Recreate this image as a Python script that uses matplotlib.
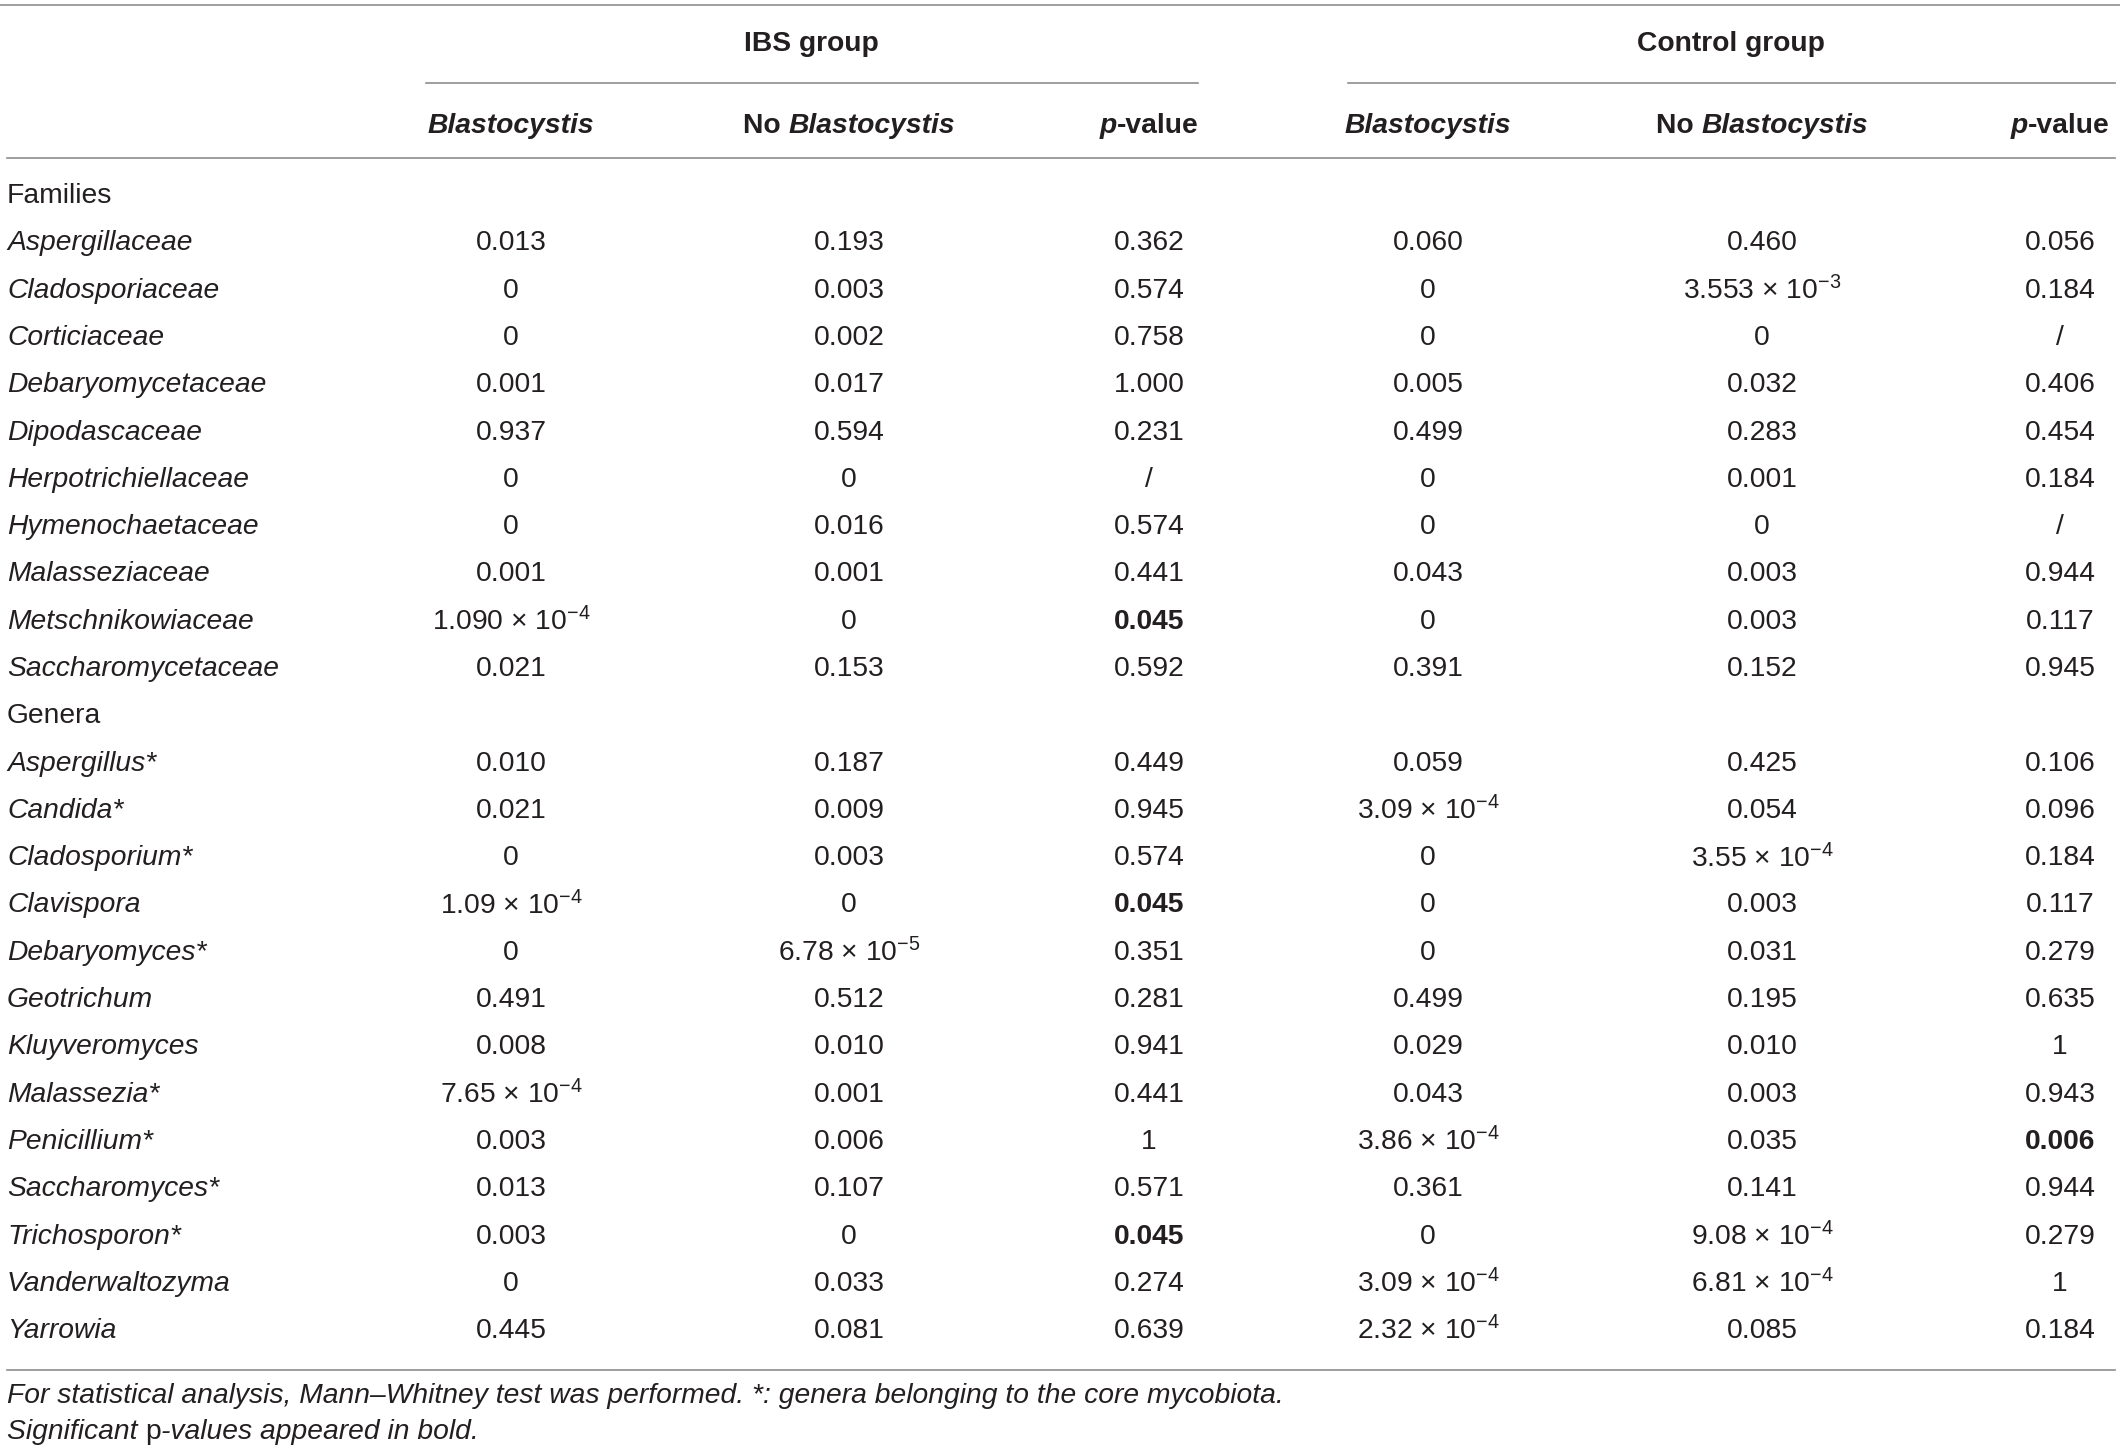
import matplotlib
matplotlib.use("Agg")
import matplotlib.pyplot as plt

plt.rcParams['font.family'] = ['Liberation Sans', 'DejaVu Sans']
plt.rcParams['mathtext.fontset'] = 'custom'
plt.rcParams['mathtext.rm'] = 'Liberation Sans'
plt.rcParams['mathtext.it'] = 'Liberation Sans:italic'
plt.rcParams['mathtext.bf'] = 'Liberation Sans:bold'

# ---- data ----
groups = ["IBS group", "Control group"]
sub_headers = ["Blastocystis", "No Blastocystis", "p-value"]

family_names = ["Aspergillaceae", "Cladosporiaceae", "Corticiaceae", "Debaryomycetaceae",
                "Dipodascaceae", "Herpotrichiellaceae", "Hymenochaetaceae", "Malasseziaceae",
                "Metschnikowiaceae", "Saccharomycetaceae"]
family_values = [
    ["0.013", "0.193", "0.362", "0.060", "0.460", "0.056"],
    ["0", "0.003", "0.574", "0", "3.553e-3", "0.184"],
    ["0", "0.002", "0.758", "0", "0", "/"],
    ["0.001", "0.017", "1.000", "0.005", "0.032", "0.406"],
    ["0.937", "0.594", "0.231", "0.499", "0.283", "0.454"],
    ["0", "0", "/", "0", "0.001", "0.184"],
    ["0", "0.016", "0.574", "0", "0", "/"],
    ["0.001", "0.001", "0.441", "0.043", "0.003", "0.944"],
    ["1.090e-4", "0", "0.045", "0", "0.003", "0.117"],
    ["0.021", "0.153", "0.592", "0.391", "0.152", "0.945"],
]

genus_names = ["Aspergillus*", "Candida*", "Cladosporium*", "Clavispora", "Debaryomyces*",
               "Geotrichum", "Kluyveromyces", "Malassezia*", "Penicillium*", "Saccharomyces*",
               "Trichosporon*", "Vanderwaltozyma", "Yarrowia"]
genus_values = [
    ["0.010", "0.187", "0.449", "0.059", "0.425", "0.106"],
    ["0.021", "0.009", "0.945", "3.09e-4", "0.054", "0.096"],
    ["0", "0.003", "0.574", "0", "3.55e-4", "0.184"],
    ["1.09e-4", "0", "0.045", "0", "0.003", "0.117"],
    ["0", "6.78e-5", "0.351", "0", "0.031", "0.279"],
    ["0.491", "0.512", "0.281", "0.499", "0.195", "0.635"],
    ["0.008", "0.010", "0.941", "0.029", "0.010", "1"],
    ["7.65e-4", "0.001", "0.441", "0.043", "0.003", "0.943"],
    ["0.003", "0.006", "1", "3.86e-4", "0.035", "0.006"],
    ["0.013", "0.107", "0.571", "0.361", "0.141", "0.944"],
    ["0.003", "0", "0.045", "0", "9.08e-4", "0.279"],
    ["0", "0.033", "0.274", "3.09e-4", "6.81e-4", "1"],
    ["0.445", "0.081", "0.639", "2.32e-4", "0.085", "0.184"],
]

# significant p-values (row name, column index)
bold_cells = [("Metschnikowiaceae", 2), ("Clavispora", 2), ("Trichosporon*", 2), ("Penicillium*", 5)]

footnote1 = "For statistical analysis, Mann\u2013Whitney test was performed. *: genera belonging to the core mycobiota."

# ---- layout ----
W, H = 2120, 1451
col_x = [511, 849, 1149, 1428, 1762, 2060]
label_x = 7
row_y0 = 193
row_step = 47.3
fs = 20.3
txt_color = "#231f20"
line_color = "#8e8e8e"

fig = plt.figure(figsize=(W / 100, H / 100), dpi=100)
ax = fig.add_axes([0, 0, 1, 1])
ax.set_xlim(0, W)
ax.set_ylim(H, 0)
ax.axis("off")
renderer = fig.canvas.get_renderer()


def fmt(v):
    if "e" in v:
        m, e = v.split("e")
        return m + r" $\times$ 10$^{" + str(int(e)) + "}$"
    return v


def pieces(x, y, parts, ha="center"):
    # parts: list of (text, weight, style); drawn side by side
    objs = []
    for s, w, st in parts:
        objs.append(ax.text(0, y, s, fontsize=fs, fontweight=w, fontstyle=st,
                            color=txt_color, va="center_baseline", ha="left"))
    widths = [o.get_window_extent(renderer).width for o in objs]
    total = sum(widths)
    start = x - total / 2 if ha == "center" else x
    for o, wd in zip(objs, widths):
        o.set_x(start)
        start += wd


# rules
ax.plot([0, W], [5, 5], color=line_color, lw=1.2)
ax.plot([7, 2115], [158, 158], color=line_color, lw=1.2)
ax.plot([7, 2115], [1370, 1370], color=line_color, lw=1.2)
ax.plot([426, 1198], [82.5, 82.5], color=line_color, lw=1.2)
ax.plot([1348, 2115], [82.5, 82.5], color=line_color, lw=1.2)

# group headers
for g, cx in zip(groups, [811, 1731]):
    pieces(cx, 41, [(g, "bold", "normal")])

# sub headers
for k in range(2):
    pieces(col_x[3 * k], 123, [("Blastocystis", "bold", "italic")])
    pieces(col_x[3 * k + 1], 123, [("No ", "bold", "normal"), ("Blastocystis", "bold", "italic")])
    pieces(col_x[3 * k + 2], 123, [("p", "bold", "italic"), ("-value", "bold", "normal")])

# body
rows = [("Families", None)] + list(zip(family_names, family_values)) + \
       [("Genera", None)] + list(zip(genus_names, genus_values))
for i, (name, vals) in enumerate(rows):
    y = row_y0 + i * row_step
    if vals is None:
        ax.text(label_x, y, name, fontsize=fs, color=txt_color, va="center_baseline")
        continue
    ax.text(label_x, y, name, fontsize=fs, fontstyle="italic", color=txt_color, va="center_baseline")
    for j, v in enumerate(vals):
        w = "bold" if (name, j) in bold_cells else "normal"
        ax.text(col_x[j], y, fmt(v), fontsize=fs, fontweight=w, color=txt_color,
                ha="center", va="center_baseline")

# footnote
ax.text(label_x, 1393, footnote1, fontsize=fs, fontstyle="italic", color=txt_color, va="center_baseline")
pieces(label_x, 1429, [("Significant ", "normal", "italic"), ("p", "normal", "normal"),
                       ("-values appeared in bold.", "normal", "italic")], ha="left")

fig.savefig("out.png", dpi=100)
